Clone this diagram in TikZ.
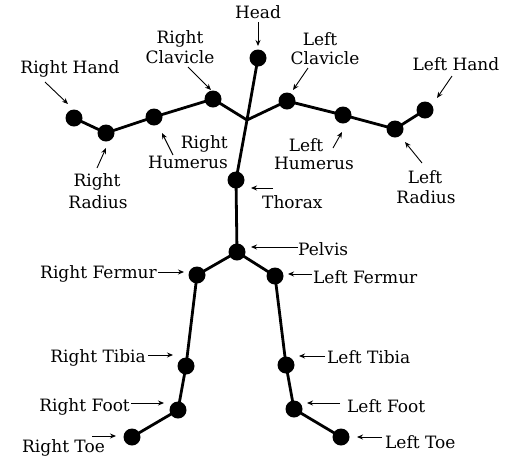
\documentclass[tikz,border=0pt]{standalone}
\usepackage{fontspec}
\setmainfont{DejaVu Serif}
\usetikzlibrary{arrows.meta}
\begin{document}
\begin{tikzpicture}[x=1pt,y=-1pt,
  joint/.style={circle,fill=black,inner sep=0pt,minimum size=17pt},
  bone/.style={line width=2.8pt},
  arr/.style={line width=0.9pt,-{Stealth[length=6pt,width=5pt]}},
  lbl/.style={font=\fontsize{17}{20}\selectfont,inner sep=0pt}]
\useasboundingbox[fill=white] (0,0) rectangle (509,459);
% joints
\node[joint] (head) at (258,58) {};
\coordinate (neck) at (247,120);
\node[joint] (thorax) at (236,180) {};
\node[joint] (pelvis) at (237,252) {};
\node[joint] (rclav) at (213,99) {};
\node[joint] (rhum) at (154,117) {};
\node[joint] (rrad) at (106,133) {};
\node[joint] (rhand) at (74,118) {};
\node[joint] (lclav) at (287,101) {};
\node[joint] (lhum) at (343,115) {};
\node[joint] (lrad) at (395,129) {};
\node[joint] (lhand) at (425,110) {};
\node[joint] (rfem) at (197,275) {};
\node[joint] (rtib) at (186,366) {};
\node[joint] (rfoot) at (178,410) {};
\node[joint] (rtoe) at (132,437) {};
\node[joint] (lfem) at (275,276) {};
\node[joint] (ltib) at (286,365) {};
\node[joint] (lfoot) at (294,409) {};
\node[joint] (ltoe) at (341,437) {};
% bones
\draw[bone] (head.center) -- (neck) -- (thorax.center) -- (pelvis.center);
\draw[bone] (rhand.center) -- (rrad.center) -- (rhum.center) -- (rclav.center) -- (neck)
  -- (lclav.center) -- (lhum.center) -- (lrad.center) -- (lhand.center);
\draw[bone] (pelvis.center) -- (rfem.center) -- (rtib.center) -- (rfoot.center) -- (rtoe.center);
\draw[bone] (pelvis.center) -- (lfem.center) -- (ltib.center) -- (lfoot.center) -- (ltoe.center);
% labels
\node[lbl,anchor=base] (tHead) at (258,18) {Head};
\node[lbl,anchor=base] (tRC1) at (180,43) {Right};
\node[lbl,anchor=base] (tRC2) at (180,63) {Clavicle};
\node[lbl,anchor=base] (tRH) at (70,73) {Right Hand};
\node[lbl,anchor=base east] (tRHu1) at (228,148) {Right};
\node[lbl,anchor=base east] (tRHu2) at (228,168) {Humerus};
\node[lbl,anchor=base] (tRR1) at (97,186) {Right};
\node[lbl,anchor=base] (tRR2) at (98,208) {Radius};
\node[lbl,anchor=base] (tLC1) at (320,45) {Left};
\node[lbl,anchor=base] (tLC2) at (325,64) {Clavicle};
\node[lbl,anchor=base] (tLH) at (456,70) {Left Hand};
\node[lbl,anchor=base] (tLHu1) at (306,151) {Left};
\node[lbl,anchor=base] (tLHu2) at (314,169) {Humerus};
\node[lbl,anchor=base] (tLR1) at (425,183) {Left};
\node[lbl,anchor=base] (tLR2) at (426,203) {Radius};
\node[lbl,anchor=base west] (tTh) at (262,208) {Thorax};
\node[lbl,anchor=base west] (tPe) at (298,255) {Pelvis};
\node[lbl,anchor=base west] (tLF) at (313,283) {Left Fermur};
\node[lbl,anchor=base west] (tLT) at (327,363) {Left Tibia};
\node[lbl,anchor=base west] (tLFo) at (347,412) {Left Foot};
\node[lbl,anchor=base west] (tLTo) at (385,448) {Left Toe};
\node[lbl,anchor=base east] (tRF) at (157,278) {Right Fermur};
\node[lbl,anchor=base east] (tRT) at (146,362) {Right Tibia};
\node[lbl,anchor=base east] (tRFo) at (130,411) {Right Foot};
\node[lbl,anchor=base east] (tRTo) at (105,452) {Right Toe};
% arrow endpoints
\coordinate (a1) at (258,22);   \coordinate (b1) at (258,46);
\coordinate (a2) at (188,67);   \coordinate (b2) at (211,90);
\coordinate (a3) at (45,82);    \coordinate (b3) at (68,104);
\coordinate (a4) at (173,155);  \coordinate (b4) at (162,133);
\coordinate (a5) at (97,168);   \coordinate (b5) at (106,148);
\coordinate (a6) at (308,68);   \coordinate (b6) at (293,90);
\coordinate (a7) at (452,76);   \coordinate (b7) at (437,98);
\coordinate (a8) at (333,148);  \coordinate (b8) at (342,132);
\coordinate (a9) at (422,163);  \coordinate (b9) at (405,142);
\coordinate (a10) at (273,188); \coordinate (b10) at (251,188);
\coordinate (a11) at (298,247); \coordinate (b11) at (251,247);
\coordinate (a12) at (312,274); \coordinate (b12) at (288,274);
\coordinate (a13) at (325,356); \coordinate (b13) at (299,356);
\coordinate (a14) at (340,403); \coordinate (b14) at (307,403);
\coordinate (a15) at (382,437); \coordinate (b15) at (357,437);
\coordinate (a16) at (158,272); \coordinate (b16) at (184,272);
\coordinate (a17) at (148,355); \coordinate (b17) at (173,355);
\coordinate (a18) at (131,403); \coordinate (b18) at (164,403);
\coordinate (a19) at (92,436);  \coordinate (b19) at (116,436);
\foreach \i in {1,...,19} {\draw[arr] (a\i) -- (b\i);}
\end{tikzpicture}
\end{document}
